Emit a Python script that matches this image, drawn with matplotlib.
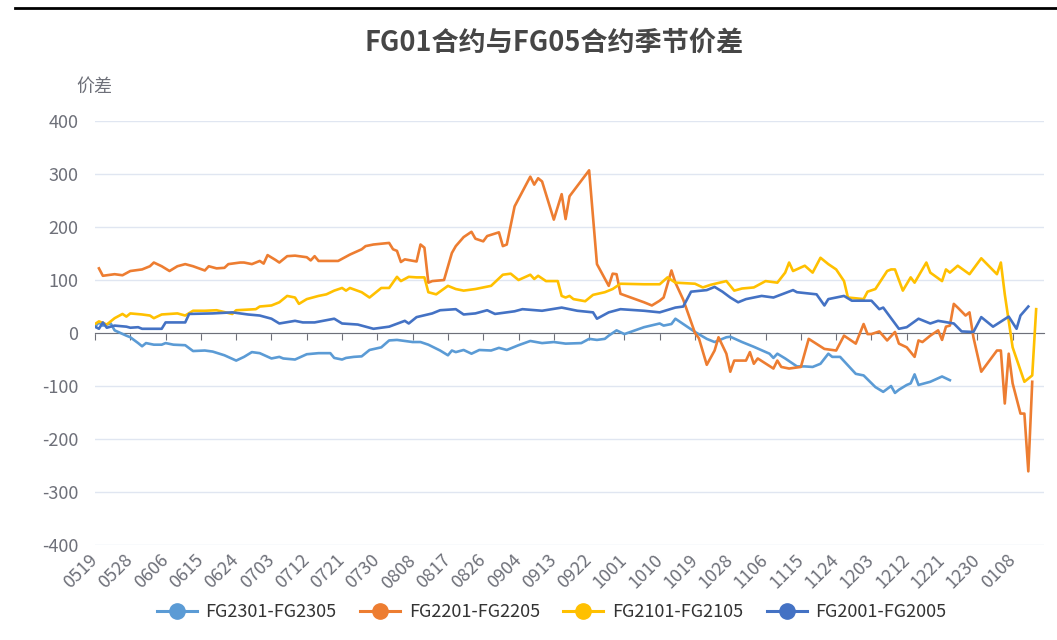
import pandas as pd
import matplotlib
matplotlib.use('Agg')
import matplotlib.pyplot as plt
from matplotlib.lines import Line2D

plt.rcParams['font.family'] = ['Noto Sans CJK SC', 'DejaVu Sans']
plt.rcParams['axes.unicode_minus'] = False

# category axis: one slot per calendar day
days = pd.date_range('2021-05-19', '2022-01-16').strftime('%m%d').tolist()
label_every = 9

names = ['FG2301-FG2305', 'FG2201-FG2205', 'FG2101-FG2105', 'FG2001-FG2005']
colors = ['#5B9BD5', '#ED7D31', '#FFC000', '#4472C4']

fg2301_dates = ('0519 0520 0521 0523 0524 0527 0528 0530 0531 0601 0603 0605 0606 0608 0611 0613 0616 0618 '
                '0621 0624 0626 0628 0630 0703 0705 0706 0709 0712 0715 0718 0719 0721 0722 0724 0726 0728 '
                '0731 0802 0804 0808 0810 0812 0815 0817 0818 0819 0821 0823 0825 0828 0830 0901 0904 0907 '
                '0910 0913 0916 0920 0922 0924 0926 0927 0929 1001 1006 1010 1011 1013 1014 1016 1019 1022 '
                '1024 1027 1028 1031 1103 1107 1108 1109 1111 1113 1114 1116 1118 1120 1122 1123 1125 1127 '
                '1129 1201 1204 1206 1208 1209 1210 1212 1213 1214 1215 1218 1221 1223').split()
fg2301_vals = [12, 20, 14, 18, 5, -5, -8, -19, -25, -19, -22, -22, -19, -22, -23, -34, -33, -35,
               -42, -52, -45, -36, -38, -48, -45, -48, -50, -40, -38, -38, -47, -50, -47, -45, -44, -32,
               -27, -14, -13, -17, -17, -22, -33, -42, -33, -36, -32, -39, -32, -33, -28, -32, -23, -15,
               -19, -17, -20, -19, -11, -13, -11, -5, 5, -2, 11, 18, 14, 17, 27, 17, 2, -11,
               -17, -8, -7, -17, -26, -39, -47, -39, -48, -58, -63, -63, -64, -58, -39, -45, -45, -61,
               -77, -80, -102, -111, -100, -113, -107, -98, -95, -78, -98, -92, -82, -89]

fg2201_dates = ('0520 0521 0524 0526 0528 0531 0602 0603 0605 0607 0609 0611 0613 0616 0617 0619 0621 0622 '
                '0625 0626 0628 0630 0701 0702 0704 0705 0707 0709 0712 0713 0714 0715 0720 0723 0726 0727 '
                '0729 0802 0803 0804 0805 0806 0809 0810 0811 0812 0813 0816 0818 0819 0821 0823 0824 0826 '
                '0827 0830 0831 0901 0903 0905 0907 0908 0909 0910 0913 0915 0916 0917 0922 0924 0927 0928 '
                '0929 0930 1006 1008 1010 1011 1013 1014 1016 1019 1020 1022 1024 1025 1027 1028 1029 1101 '
                '1102 1103 1104 1108 1109 1110 1112 1115 1117 1121 1124 1126 1129 1201 1202 1203 1205 1207 '
                '1209 1210 1212 1214 1215 1216 1218 1220 1221 1222 1223 1224 1225 1227 1228 1229 1231 0104 '
                '0105 0106 0107 0108 0110 0111 0112 0113').split()
fg2201_vals = [122, 108, 111, 109, 117, 120, 126, 133, 126, 117, 126, 130, 126, 118, 126, 122, 123, 130,
               133, 133, 130, 136, 131, 147, 138, 133, 145, 146, 143, 137, 145, 136, 136, 148, 158, 164,
               167, 170, 158, 155, 134, 139, 135, 167, 161, 95, 98, 100, 151, 164, 181, 191, 178, 173,
               183, 190, 164, 167, 239, 267, 295, 280, 292, 286, 214, 262, 215, 258, 307, 130, 89, 112,
               111, 74, 58, 52, 61, 67, 118, 95, 63, 0, -10, -60, -33, -8, -39, -73, -52, -52,
               -36, -58, -48, -67, -52, -64, -67, -64, -11, -30, -33, -5, -20, 17, -2, -2, 3, -14,
               2, -20, -27, -45, -14, -17, -5, 5, -13, 12, 14, 55, 48, 33, 39, -8, -73, -33,
               -33, -133, -39, -95, -152, -152, -261, -92]

fg2101_dates = ('0519 0520 0522 0524 0526 0527 0528 0531 0602 0603 0605 0609 0611 0613 0616 0619 0623 0624 '
                '0629 0630 0703 0705 0707 0709 0710 0712 0715 0717 0719 0721 0722 0723 0726 0728 0731 0802 '
                '0804 0805 0807 0809 0811 0812 0814 0817 0819 0821 0824 0826 0828 0831 0902 0904 0907 0908 '
                '0909 0911 0914 0915 0916 0917 0918 0921 0923 0926 0928 0930 1006 1010 1012 1014 1019 1021 '
                '1023 1027 1029 1031 1103 1106 1109 1111 1112 1113 1116 1118 1120 1122 1124 1126 1127 1201 '
                '1202 1204 1207 1208 1209 1211 1213 1214 1217 1218 1221 1222 1223 1225 1228 1231 0104 0105 '
                '0106 0108 0111 0113 0114').split()
fg2101_vals = [17, 22, 16, 28, 36, 31, 37, 35, 33, 28, 35, 37, 33, 42, 42, 43, 36, 43,
               45, 50, 52, 58, 70, 67, 55, 64, 70, 73, 80, 85, 80, 85, 77, 67, 85, 85,
               106, 98, 106, 105, 105, 77, 73, 89, 83, 80, 83, 86, 89, 110, 112, 100, 110, 102,
               108, 98, 98, 70, 67, 70, 64, 60, 72, 77, 83, 93, 92, 92, 105, 95, 93, 86,
               91, 98, 80, 84, 86, 98, 95, 114, 133, 117, 127, 114, 142, 130, 120, 98, 67, 64,
               78, 83, 117, 120, 120, 80, 105, 95, 133, 114, 98, 120, 114, 127, 111, 141, 111, 133,
               73, -27, -92, -80, 45]

fg2001_dates = ('0519 0520 0521 0522 0524 0527 0528 0530 0531 0605 0606 0611 0612 0618 0623 0627 0630 0703 '
                '0705 0709 0711 0714 0719 0721 0725 0729 0802 0806 0807 0809 0813 0815 0819 0821 0824 0827 '
                '0829 0903 0905 0910 0915 0919 0923 0924 0927 0930 1006 1010 1014 1016 1018 1022 1024 1026 '
                '1028 1030 1101 1105 1108 1113 1114 1119 1121 1122 1126 1128 1203 1205 1206 1210 1212 1215 '
                '1218 1220 1224 1226 1229 1231 0103 0107 0109 0110 0112').split()
fg2001_vals = [12, 8, 20, 10, 14, 12, 10, 11, 8, 8, 20, 20, 36, 37, 39, 35, 33, 27,
               18, 23, 20, 20, 27, 18, 16, 8, 12, 23, 18, 30, 37, 43, 45, 35, 37, 43,
               36, 41, 45, 42, 48, 42, 39, 27, 39, 45, 42, 39, 48, 50, 78, 81, 87, 78,
               67, 58, 64, 70, 67, 81, 77, 73, 52, 64, 70, 61, 61, 45, 48, 8, 11, 27,
               18, 23, 18, 3, 2, 30, 12, 31, 8, 33, 50]

series = [(fg2301_dates, fg2301_vals), (fg2201_dates, fg2201_vals),
          (fg2101_dates, fg2101_vals), (fg2001_dates, fg2001_vals)]

pos = {d: i for i, d in enumerate(days)}
axis_grey = '#6E7079'

fig = plt.figure(figsize=(10.57, 6.4), dpi=100)
ax = fig.add_axes([0.0899, 0.1484, 0.8978, 0.6625])

for (dts, vals), name, c in zip(series, names, colors):
    ax.plot([pos[d] for d in dts], vals, color=c, lw=1.9, label=name, zorder=3,
            solid_joinstyle='round')

ax.set_xlim(0, len(days) - 1)
ax.set_ylim(-400, 400)
ax.set_yticks(range(-400, 401, 100))
ax.grid(axis='y', color='#E0E6F1', lw=1)
ax.set_axisbelow(True)
ax.tick_params(axis='y', length=0, pad=12, labelsize=13, labelcolor=axis_grey)
for s in ['top', 'right', 'left']:
    ax.spines[s].set_visible(False)

# axis line sits on zero, labels stay at the bottom
tick_pos = list(range(0, len(days), label_every))
tick_labels = [days[i] for i in tick_pos]
ax.spines['bottom'].set_position(('data', 0))
ax.spines['bottom'].set_color(axis_grey)
ax.set_xticks(tick_pos)
ax.tick_params(axis='x', length=5, color=axis_grey, labelbottom=False)

sec = ax.secondary_xaxis('bottom')
sec.set_xticks(tick_pos, labels=tick_labels, rotation=45, ha='right', va='center',
               rotation_mode='anchor')
sec.tick_params(length=0, pad=9, labelsize=13, labelcolor=axis_grey)
sec.spines['bottom'].set_visible(False)

fig.text(0.524, 0.934, 'FG01合约与FG05合约季节价差', ha='center', va='center',
         fontsize=19.5, fontweight='bold', color='#464646')
fig.text(0.089, 0.864, '价差', ha='center', va='center', fontsize=13, color=axis_grey)

handles = [Line2D([], [], color=c, lw=2.2, marker='o', markersize=11) for c in colors]
fig.legend(handles, names, loc='center', bbox_to_anchor=(0.522, 0.044), ncol=4,
           frameon=False, fontsize=13, handlelength=2.2, handletextpad=0.5,
           columnspacing=1.3, labelcolor='#333333')

# screenshot frame edge at the top
fig.add_artist(Line2D([0.014, 1.0], [0.9875, 0.9875], color='black', lw=2))

fig.savefig('out.png', dpi=100)
